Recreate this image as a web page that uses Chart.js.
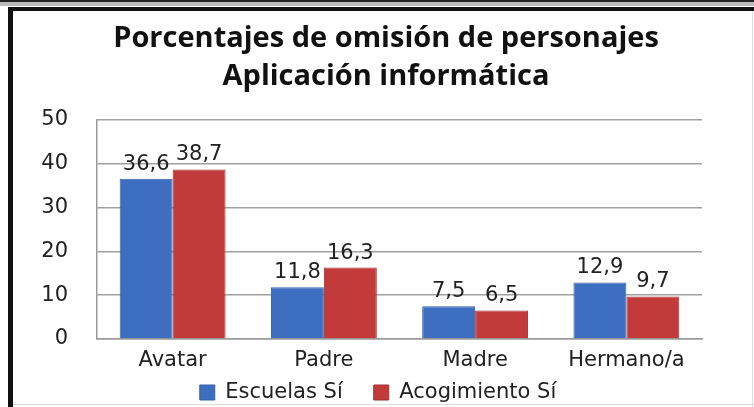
<!DOCTYPE html>
<html>
<head>
<meta charset="utf-8">
<script src="https://cdn.jsdelivr.net/npm/chart.js@4"></script>
<style>
  html, body { margin: 0; padding: 0; background: #fff; overflow: hidden; }
  #wrap { position: relative; width: 754px; height: 407px; overflow: hidden; }
  #box { position: absolute; left: 0; top: 0; width: 754px; height: 413px; }
  .line { position: absolute; pointer-events: none; }
</style>
</head>
<body>
<div id="wrap">
  <div id="box"><canvas id="myChart"></canvas></div>
  <div class="line" style="left:0;top:0;width:754px;height:2px;background:#222"></div>
  <div class="line" style="left:0;top:2px;width:754px;height:4px;background:#bbb"></div>
  <div class="line" style="left:8px;top:7px;width:746px;height:4px;background:#111"></div>
  <div class="line" style="left:8px;top:7px;width:5px;height:400px;background:#111"></div>
  <div class="line" style="left:752px;top:11px;width:1px;height:396px;background:#ddd"></div>
  <div class="line" style="left:13px;top:404px;width:741px;height:1px;background:#ddd"></div>
</div>
<script>
var categories = ['Avatar', 'Padre', 'Madre', 'Hermano/a'];
var escuelas = [36.6, 11.8, 7.5, 12.9];
var acogimiento = [38.7, 16.3, 6.5, 9.7];
var seriesNames = ['Escuelas Sí', 'Acogimiento Sí'];
var titleLines = ['Porcentajes de omisión de personajes', 'Aplicación informática'];

var valueLabels = {
    id: 'valueLabels',
    afterLayout(chart) {
        // title and legend sit a bit right of the plot centre in the original
        chart.titleBlock.left += 29;
        chart.legend.left += 13;
    },
    afterDatasetsDraw(chart) {
        var ctx = chart.ctx;
        ctx.save();
        ctx.font = '21px "DejaVu Sans"';
        ctx.fillStyle = '#222';
        ctx.textAlign = 'center';
        ctx.textBaseline = 'bottom';
        chart.data.datasets.forEach((ds, i) => {
            chart.getDatasetMeta(i).data.forEach((bar, j) => {
                ctx.fillText(String(ds.data[j]).replace('.', ','), bar.x, bar.y - 4);
            });
        });
        ctx.restore();
    }
};

var ctx = document.getElementById('myChart').getContext('2d');
var myChart = new Chart(ctx, {
    type: 'bar',
    data: {
        labels: categories,
        datasets: [{
            label: seriesNames[0],
            data: escuelas,
            backgroundColor: '#3d6ec0',
            borderColor: '#3562a8',
            borderWidth: 1
        }, {
            label: seriesNames[1],
            data: acogimiento,
            backgroundColor: '#c23a3a',
            borderColor: '#a33030',
            borderWidth: 1
        }]
    },
    options: {
        responsive: true,
        maintainAspectRatio: false,
        animation: false,
        layout: {
            padding: { left: 41, right: 52, top: 20, bottom: 0 }
        },
        datasets: {
            bar: { categoryPercentage: 0.7, barPercentage: 1 }
        },
        plugins: {
            title: {
                display: true,
                text: titleLines,
                color: '#111',
                font: { family: '"Open Sans"', size: 29, weight: 'bold', lineHeight: 1.31 },
                padding: { top: 0, bottom: 24 }
            },
            legend: {
                position: 'bottom',
                labels: {
                    color: '#222',
                    font: { family: '"DejaVu Sans"', size: 21 },
                    boxWidth: 15,
                    boxHeight: 15,
                    padding: 10,
                    generateLabels(chart) {
                        // extra spacing after the first entry, like the original
                        var items = Chart.defaults.plugins.legend.labels.generateLabels(chart);
                        items[0].text = items[0].text + '\u2002\u2002';
                        return items;
                    }
                }
            },
            tooltip: { enabled: false }
        },
        scales: {
            x: {
                grid: { display: false, drawTicks: false },
                border: { color: '#999', width: 1.5 },
                ticks: {
                    color: '#222',
                    font: { family: '"DejaVu Sans"', size: 21 },
                    padding: 9
                },
                afterFit(scale) {
                    scale.height = 33;
                }
            },
            y: {
                min: 0,
                max: 50,
                grid: { color: '#a0a0a0', lineWidth: 1.5, drawTicks: false },
                border: { color: '#999', width: 1.5 },
                ticks: {
                    stepSize: 10,
                    color: '#222',
                    font: { family: '"DejaVu Sans"', size: 21 },
                    padding: 29
                },
                afterFit(scale) {
                    scale.width = 56;
                }
            }
        }
    },
    plugins: [valueLabels]
});
</script>
</body>
</html>
